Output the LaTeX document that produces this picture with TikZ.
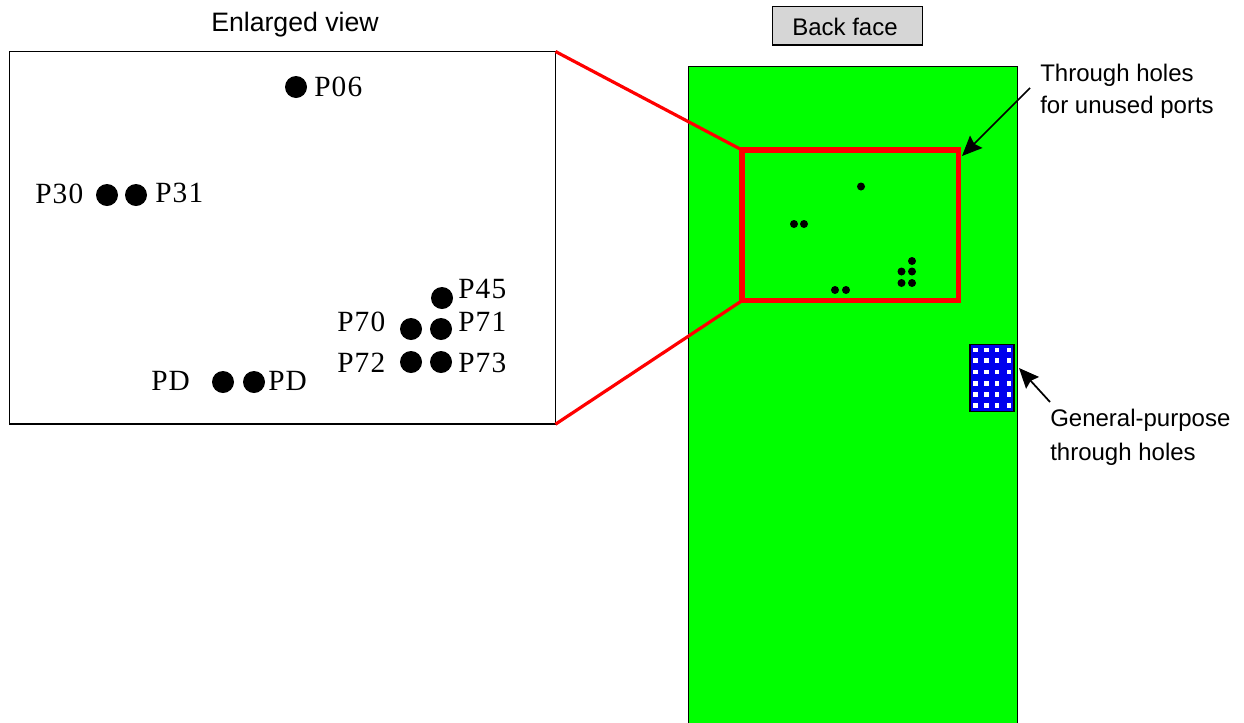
\documentclass[tikz,border=0pt]{standalone}
\usepackage{fontspec}
\setmainfont{Liberation Sans}
\newfontfamily\serifface[LetterSpace=4]{Liberation Serif}
\usetikzlibrary{arrows.meta}
\definecolor{boardgreen}{RGB}{0,255,0}
\definecolor{viared}{RGB}{255,0,0}
\definecolor{padblue}{RGB}{0,0,238}
\definecolor{tabgrey}{RGB}{214,214,214}
\tikzset{
  px/.style={x=0.75pt,y=-0.75pt},
  box/.style={draw=black,inner sep=0pt,outer sep=0pt,anchor=north west},
  sanslabel/.style={font=\fontsize{18}{22}\selectfont,inner sep=0pt,text=black},
  pinlabel/.style={font=\serifface\fontsize{22}{24}\selectfont,inner sep=0pt,text=black},
  bigdot/.style={circle,fill=black,inner sep=0pt,minimum size=16.5pt},
  smalldot/.style={circle,fill=black,inner sep=0pt,minimum size=6pt},
  whitehole/.style={fill=white,inner sep=0pt,minimum size=3.4pt},
  zoomline/.style={draw=viared,line width=2.4pt},
  pointer/.style={draw=black,line width=1.3pt,-{Stealth[length=15pt,width=13pt,inset=2pt]}}
}
\begin{document}
\begin{tikzpicture}[px]
\useasboundingbox (0,0) rectangle (1244,722);
% board
\path[clip] (0,0) rectangle (1244,722);
\node[box,fill=boardgreen,line width=0.8pt,minimum width=247pt,minimum height=500pt] (board) at (688.5,66.5) {};
% tab
\node[box,fill=tabgrey,line width=1.1pt,minimum width=112.5pt,minimum height=29pt] (tab) at (772.5,6.5) {};
\node[sanslabel] (tabtext) at (845,27) {Back face};
% enlarged view
\node[box,fill=white,line width=1.1pt,minimum width=409.5pt,minimum height=279.5pt] (view) at (9.5,51.5) {};
\node[sanslabel,font=\fontsize{20}{22}\selectfont] (viewtitle) at (295,25) {Enlarged view};
% red window
\node[box,zoomline,line width=3.8pt,minimum width=162.5pt,minimum height=113pt] (win) at (742,150) {};
\draw[zoomline] (view.north east) -- (win.north west);
\draw[zoomline] (view.south east) -- (win.south west);
% small holes
\foreach \n/\x/\y in {a/861/186.5,b/794/224,c/804/224,d/912/261,e/901.5/271.5,f/912/271.5,g/901.5/283,h/912/283,i/835/290,j/846/290}
  \node[smalldot] (s\n) at (\x,\y) {};
% big holes
\foreach \n/\x/\y in {p06/296/87,p30/107/195,p31/136/195,p45/442/298,p70/411/329,p71/441/329,p72/411/362,p73/441/362,pd1/223/382,pd2/254/382}
  \node[bigdot] (\n) at (\x,\y) {};
\node[pinlabel,anchor=west] (l06) at (314,87) {P06};
\node[pinlabel,anchor=west] (l30) at (35,194) {P30};
\node[pinlabel,anchor=west] (l31) at (155,193) {P31};
\node[pinlabel,anchor=west] (l45) at (458,289) {P45};
\node[pinlabel,anchor=west] (l70) at (337,322) {P70};
\node[pinlabel,anchor=west] (l71) at (458,322) {P71};
\node[pinlabel,anchor=west] (l72) at (337,363) {P72};
\node[pinlabel,anchor=west] (l73) at (458,363) {P73};
\node[pinlabel,anchor=west] (lpd1) at (151,381) {PD};
\node[pinlabel,anchor=west] (lpd2) at (268,381) {PD};
% general-purpose pad
\node[box,fill=padblue,line width=0.8pt,minimum width=33pt,minimum height=50pt] (pad) at (970,344.5) {};
\foreach \x in {975.7,986.3,997,1009}
  \foreach \y in {350,360.3,372,383.3,394.3,405.7}
    \node[whitehole] at (\x,\y) {};
% annotations
\node[sanslabel,anchor=north west,align=left,font=\fontsize{18}{24}\selectfont] (t1) at (1040,64) {Through holes\\for unused ports};
\node[sanslabel,anchor=north west,align=left,font=\fontsize{18}{25.5}\selectfont] (t2) at (1050,408.5) {General-purpose\\through holes};
\coordinate (t1end) at (1030,88);
\coordinate (t1tip) at (962,156);
\coordinate (t2end) at (1050,402);
\coordinate (t2tip) at (1019,368);
\draw[pointer] (t1end) -- (t1tip);
\draw[pointer] (t2end) -- (t2tip);
\end{tikzpicture}
\end{document}
